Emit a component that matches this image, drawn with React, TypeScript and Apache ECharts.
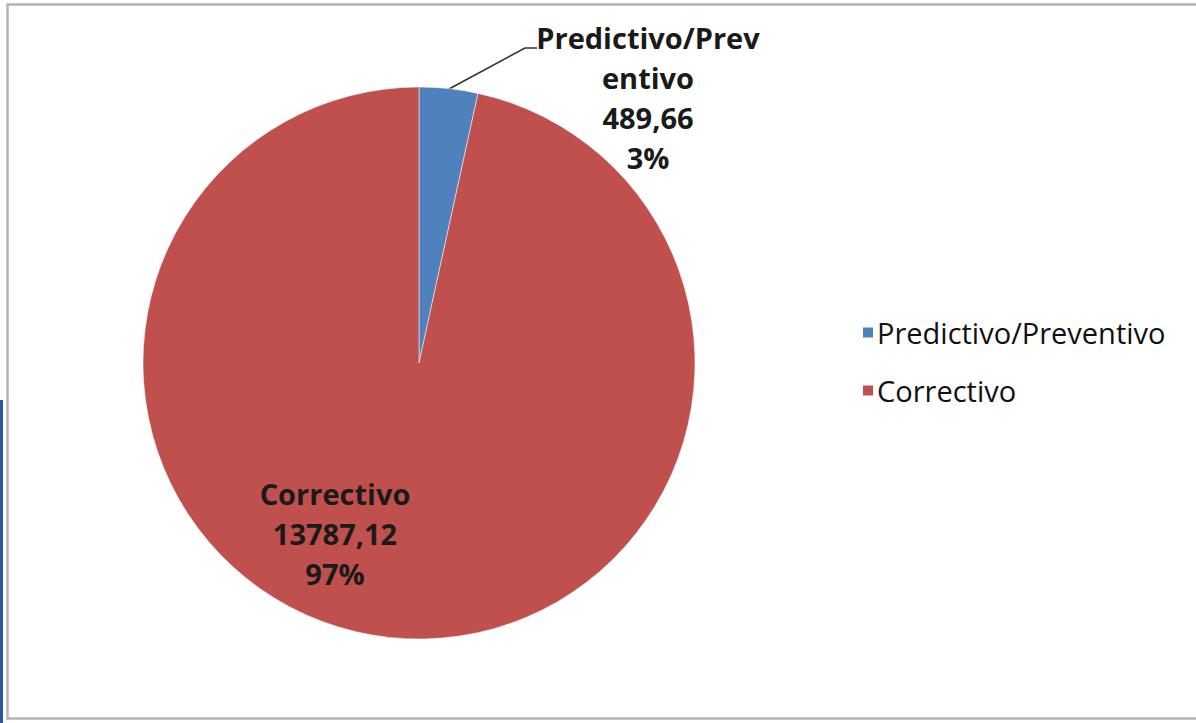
import React, { useEffect, useRef } from "react";
import * as echarts from "echarts";

// Maintenance cost split
const categories = ["Predictivo/Preventivo", "Correctivo"];
const values = [489.66, 13787.12];
const valueLabels = ["489,66", "13787,12"];
const colors = ["#4F81BD", "#C0504D"];

const FONT = "'Open Sans', 'Noto Sans', 'DejaVu Sans', sans-serif";

export default function App() {
  const ref = useRef<HTMLDivElement>(null);

  useEffect(() => {
    if (!ref.current) return;
    const chart = echarts.init(ref.current, undefined, { renderer: "svg" });
    const total = values.reduce((a, b) => a + b, 0);

    const cx = 419;
    const cy = 363;
    const r = 276;

    chart.setOption({
      animation: false,
      backgroundColor: "#ffffff",
      legend: {
        orient: "vertical",
        left: 856,
        top: 313,
        itemWidth: 12,
        itemHeight: 12,
        itemGap: 29,
        icon: "rect",
        textStyle: { fontFamily: FONT, fontSize: 29, color: "#111111", padding: [0, 0, 0, -2] },
        data: categories,
      },
      graphic: [
        {
          type: "rect",
          shape: { x: 7.5, y: 4.5, width: 1200, height: 714 },
          style: { fill: "none", stroke: "#b4b4b4", lineWidth: 2.5 },
          silent: true,
        },
        {
          type: "rect",
          shape: { x: 0, y: 400, width: 3, height: 323 },
          style: { fill: "#2a56a8" },
          silent: true,
        },
      ],
      series: [
        {
          type: "pie",
          center: [cx, cy],
          radius: r,
          startAngle: 90,
          clockwise: true,
          data: categories.map((name, i) => ({
            name,
            value: values[i],
            itemStyle: { color: colors[i] },
          })),
          itemStyle: { borderColor: "#ffffff", borderWidth: 0.5 },
          label: {
            show: true,
            fontFamily: FONT,
            fontSize: 29,
            fontWeight: "bold",
            color: "#1a1a1a",
            lineHeight: 40,
            align: "center",
            formatter: (p: any) => {
              const pct = Math.round((values[p.dataIndex] / total) * 100) + "%";
              const name =
                p.dataIndex === 0 ? "Predictivo/Prev\nentivo" : categories[p.dataIndex];
              return `${name}\n${valueLabels[p.dataIndex]}\n${pct}`;
            },
          },
          labelLine: { show: true, length: 20, length2: 10, lineStyle: { color: "#303030", width: 1.5 } },
          labelLayout: (p: any) => {
            if (p.dataIndex === 0) {
              return {
                x: 648,
                y: 97,
                align: "center",
                verticalAlign: "middle",
                labelLinePoints: [
                  [449, 89],
                  [525, 48],
                  [537, 48],
                ],
              };
            }
            return { x: 335, y: 533, align: "center", verticalAlign: "middle" };
          },
          emphasis: { disabled: true },
        },
      ],
    });

    return () => chart.dispose();
  }, []);

  return (
    <div
      ref={ref}
      style={{ position: "fixed", left: 0, top: 0, width: 1196, height: 723 }}
    />
  );
}
